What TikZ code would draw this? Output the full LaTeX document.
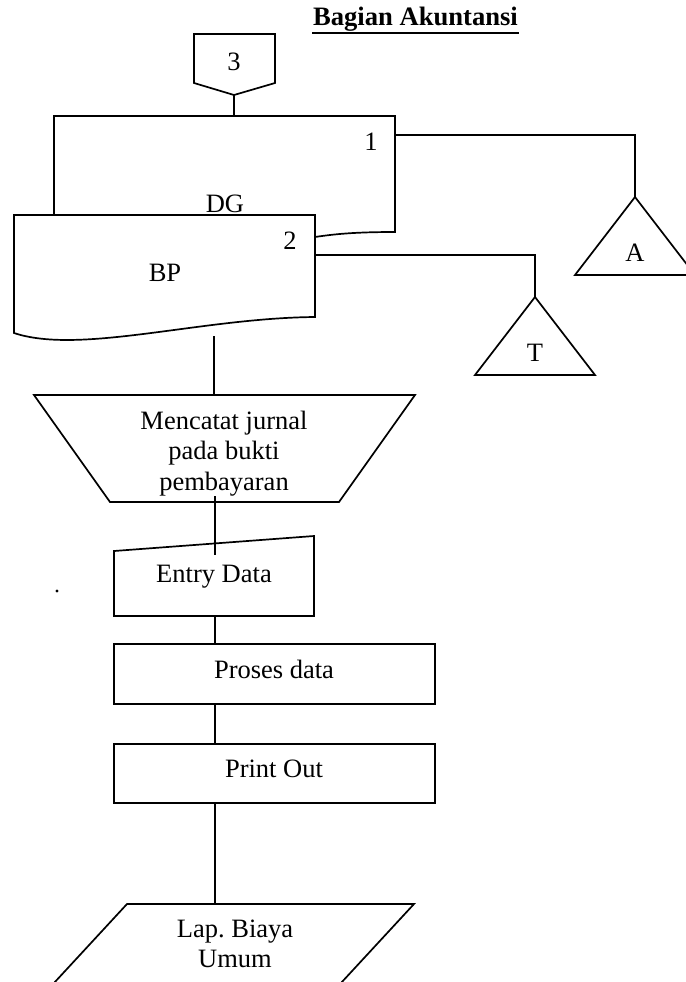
\documentclass[tikz,border=0pt]{standalone}
\usepackage{fontspec}
\setmainfont{Liberation Serif}
\frenchspacing
\begin{document}
\begin{tikzpicture}[x=0.5pt,y=-0.5pt,
  line width=0.85pt, line join=miter,
  lbl/.style={inner sep=0pt, anchor=base, font=\fontsize{13.25pt}{15.25pt}\selectfont},
  lbltwo/.style={inner sep=0pt, anchor=base, align=center, font=\fontsize{13.25pt}{15.25pt}\selectfont},
  symb/.style={draw=black, fill=white},
  link/.style={draw=black}]
\useasboundingbox (0,0) rectangle (686,982);
\fill[white] (0,0) rectangle (686,982);
\clip (0,0) rectangle (686,982);

% heading
\node[inner sep=0pt, anchor=base, font=\fontsize{13.3pt}{15pt}\selectfont\bfseries] (title) at (415.5,25) {Bagian Akuntansi};
\draw[line width=1pt] ([yshift=-4pt]title.base west) -- ([yshift=-4pt]title.base east);

% off-page connector 3
\draw[symb] (194,34) -- (275,34) -- (275,83) -- (234,95) -- (194,83) -- cycle;
\coordinate (opc) at (234,95);
\node[lbl] (n3) at (234,70) {3};

% DG document (behind)
\draw[symb] (54,215) -- (54,116) -- (395,116) -- (395,232)
  .. controls (355,232) and (335,234) .. (315,237);
\coordinate (dgtop) at (234,116);
\coordinate (dgout) at (395,135);
\node[lbl] (n1) at (371,150) {1};
\node[lbl] (dg) at (225,212) {DG};

% BP document (front)
\draw[symb] (14,215) -- (315,215) -- (315,317)
  .. controls (200,318) and (80,355) .. (14,333) -- cycle;
\coordinate (bpout) at (315,255);
\coordinate (bpbot) at (214,336);
\node[lbl] (n2) at (290,249) {2};
\node[lbl] (bp) at (165,281) {BP};

\draw[link] (opc) -- (dgtop);

% archive A
\coordinate (aapex) at (635,197);
\draw[symb] (aapex) -- (695,275) -- (575,275) -- cycle;
\node[lbl] (na) at (635,261) {A};
\draw[link] (dgout) -| (aapex);

% archive T
\coordinate (tapex) at (535,297);
\draw[symb] (tapex) -- (595,375) -- (475,375) -- cycle;
\node[lbl] (nt) at (535,361) {T};
\draw[link] (bpout) -| (tapex);

% manual operation
\coordinate (mtop) at (214,395);
\draw[symb] (34,395) -- (415,395) -- (339,502) -- (110,502) -- cycle;
\draw[link] (bpbot) -- (mtop);
\node[lbltwo] (jurnal) at (224,490) {Mencatat jurnal\\pada bukti\\pembayaran};

% manual input
\draw[symb] (114,551) -- (314,536) -- (314,616) -- (114,616) -- cycle;
\coordinate (mout) at (215,496);
\coordinate (ein) at (215,555);
\draw[link] (mout) -- (ein);
\node[lbl] (entry) at (214,582) {Entry Data};
\fill (57,591) circle (1.7);

% process boxes
\coordinate (ebot) at (215,616);
\coordinate (ptop) at (215,644);
\draw[link] (ebot) -- (ptop);
\draw[symb] (114,644) rectangle (435,704);
\node[lbl] (proses) at (274,678) {Proses data};

\coordinate (pbot) at (215,704);
\coordinate (otop) at (215,744);
\draw[link] (pbot) -- (otop);
\draw[symb] (114,744) rectangle (435,803);
\node[lbl] (print) at (274,777) {Print Out};

% report output
\coordinate (obot) at (215,803);
\coordinate (ltop) at (215,904);
\draw[link] (obot) -- (ltop);
\draw[symb] (127,904) -- (414,904) -- (341,983) -- (54,983) -- cycle;
\node[lbltwo, font=\fontsize{13.25pt}{14.6pt}\selectfont] (lap) at (235,967) {Lap. Biaya\\Umum};
\end{tikzpicture}
\end{document}
